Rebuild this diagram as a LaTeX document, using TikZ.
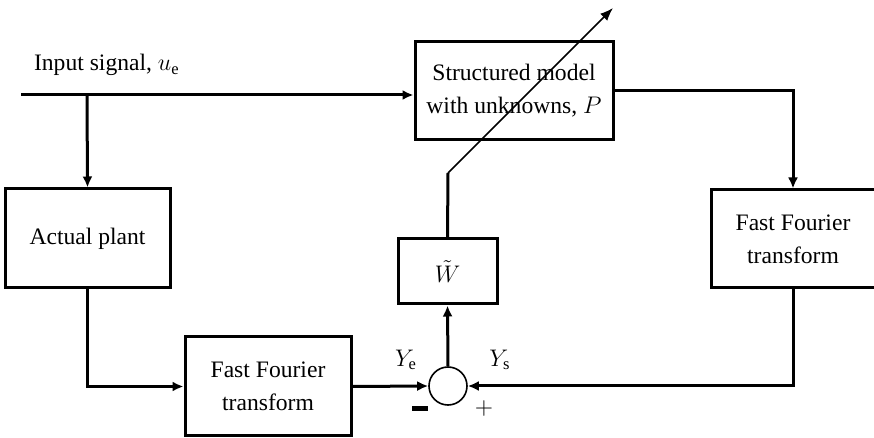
\documentclass[tikz,border=0pt]{standalone}
\usepackage{fontspec}
\setmainfont{Liberation Serif}
\usetikzlibrary{arrows.meta}
\begin{document}
\begin{tikzpicture}[x=0.5pt,y=-0.5pt,
  every node/.style={font=\fontsize{11.8}{16.5}\selectfont},
  blockbox/.style={draw,line width=1.5pt,inner sep=0pt,align=center},
  sig/.style={line width=1.5pt},
  sigarrow/.style={line width=1.5pt,-{Latex[length=5.5pt,width=5pt]}},
  thinarrow/.style={line width=0.8pt,-{Latex[length=6.5pt,width=5pt]}}]
  \useasboundingbox (0,0) rectangle (874,438);

  % blocks
  \node[blockbox,minimum width=198*0.5pt,minimum height=98*0.5pt] (model) at (514,91)
    {Structured model\\with unknowns, $P$};
  \node[blockbox,minimum width=165*0.5pt,minimum height=99*0.5pt] (plant) at (87.5,238.5)
    {Actual plant};
  \node[blockbox,minimum width=166*0.5pt,minimum height=99*0.5pt] (fftl) at (268,386.5)
    {Fast Fourier\\transform};
  \node[blockbox,minimum width=164*0.5pt,minimum height=98*0.5pt] (fftr) at (793,239)
    {Fast Fourier\\transform};
  \node[blockbox,minimum width=99*0.5pt,minimum height=65*0.5pt] (w) at (447.5,271.5)
    {$\tilde{W}$};
  \node[draw,circle,line width=0.8pt,minimum size=38*0.5pt,inner sep=0pt] (sum) at (448,386) {};

  % input signal
  \coordinate (in) at (21,95);
  \coordinate (br) at (87,95);
  \node[anchor=west] (inlabel) at (27,65) {Input signal, $u_{\mathrm{e}}$};
  \draw[sigarrow] (in) -- (in -| model.west);
  \draw[sigarrow] (br) -- (plant.north);

  % model output to right FFT
  \draw[sigarrow] (model.east |- 0,91) -| (fftr.north);

  % plant to left FFT
  \draw[sigarrow] (plant.south) |- (fftl.west);

  % into the summing junction
  \draw[sigarrow] (fftl.east) -- (sum.west);
  \draw[sigarrow] (fftr.south) |- (sum.east);
  \draw[sigarrow] (sum.north) -- (w.south);

  % adaptation arrow through the model
  \coordinate (bend) at (448,173);
  \coordinate (tip) at (613,8);
  \draw[sig] (w.north) -- (bend);
  \draw[thinarrow] (bend) -- (tip);

  % signs and signal names at the junction
  \node (ye) at (406,360) {$Y_{\mathrm{e}}$};
  \node (ys) at (500,360) {$Y_{\mathrm{s}}$};
  \node (minus) at (420,411) {\rule[2.4pt]{8pt}{2.2pt}};
  \node (plus) at (484,409) {$+$};
\end{tikzpicture}
\end{document}
